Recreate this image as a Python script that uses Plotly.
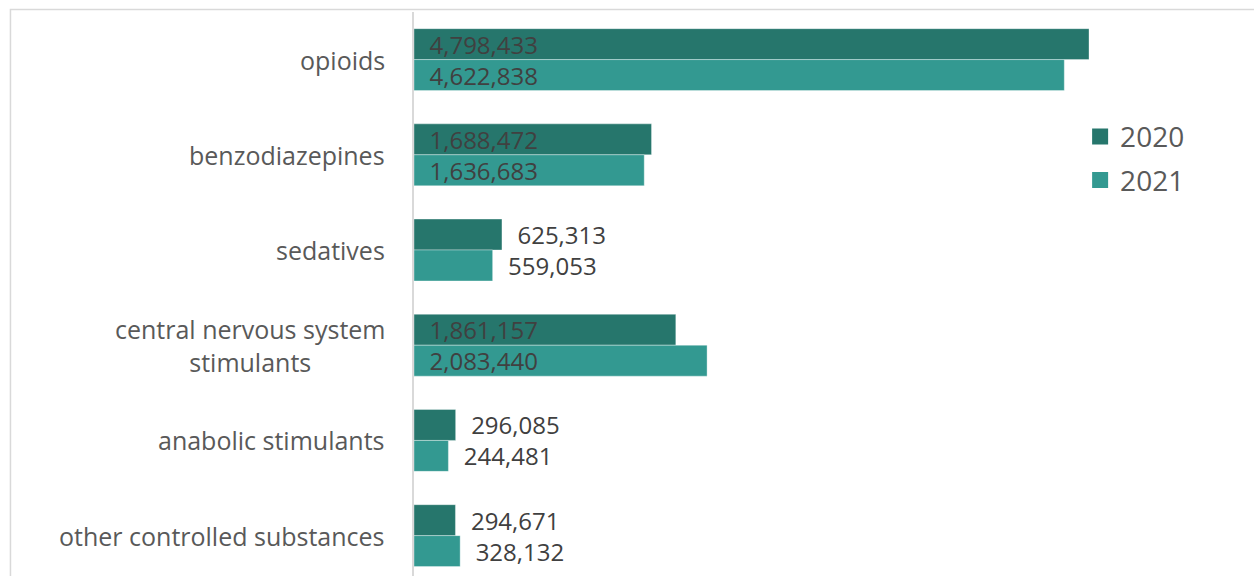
import plotly.graph_objects as go

categories = ["opioids", "benzodiazepines", "sedatives",
              "central nervous system<br>stimulants", "anabolic stimulants",
              "other controlled substances"]
values_2020 = [4798433, 1688472, 625313, 1861157, 296085, 294671]
values_2021 = [4622838, 1636683, 559053, 2083440, 244481, 328132]
series_names = ["2020", "2021"]
label_inside = [True, True, False, True, False, False]

COL_2020 = "#26766c"
COL_2021 = "#339991"
FONT = "Open Sans"
NB = "\u00a0"

idx = list(range(len(categories)))

def labels(vals):
    return [(NB * 2 + f"{v:,}") for v in vals]

def positions():
    return ["inside" if f else "outside" for f in label_inside]

fig = go.Figure()
for name, vals, col in [(series_names[0], values_2020, COL_2020),
                        (series_names[1], values_2021, COL_2021)]:
    fig.add_trace(go.Bar(
        y=idx, x=vals, orientation="h", name=name, showlegend=False,
        marker=dict(color=col, line=dict(color="rgba(255,255,255,0.35)", width=1)),
        text=labels(vals), textposition=positions(),
        insidetextanchor="start", constraintext="none", textangle=0,
        textfont=dict(family=FONT, size=24, color="#404040"),
        cliponaxis=False, hoverinfo="skip",
    ))
    fig.add_trace(go.Scatter(
        x=[None], y=[None], mode="markers", name=name, legendgroup=name,
        marker=dict(symbol="square", size=16, color=col),
    ))

for i, c in enumerate(categories):
    fig.add_annotation(
        x=0, y=i, xref="x", yref="y", text=c, showarrow=False,
        xanchor="right", yanchor="middle", align="center", xshift=-27,
        font=dict(family=FONT, size=25, color="#595959"),
    )

# outer chart border (extends beyond the visible area on right/bottom)
fig.add_shape(type="rect", xref="paper", yref="paper",
              x0=-0.4804, x1=1.2, y0=-0.2, y1=1.0044,
              line=dict(color="#d9d9d9", width=1.5), layer="below")

fig.update_layout(
    width=1254, height=576,
    margin=dict(l=414, r=0, t=12, b=0),
    paper_bgcolor="white", plot_bgcolor="white",
    barmode="group", bargap=0.35, bargroupgap=0,
    showlegend=True,
    legend=dict(x=0.793, y=0.823, xanchor="left", yanchor="top",
                font=dict(family=FONT, size=28, color="#595959"),
                tracegroupgap=4, bgcolor="rgba(0,0,0,0)"),
    xaxis=dict(range=[0, 5971340], visible=False, fixedrange=True),
    yaxis=dict(range=[5.424, -0.5], showticklabels=False, showgrid=False,
               zeroline=False, showline=True, linecolor="#d9d9d9", linewidth=1.5,
               ticks="", fixedrange=True),
)

fig.write_html("out.html")
